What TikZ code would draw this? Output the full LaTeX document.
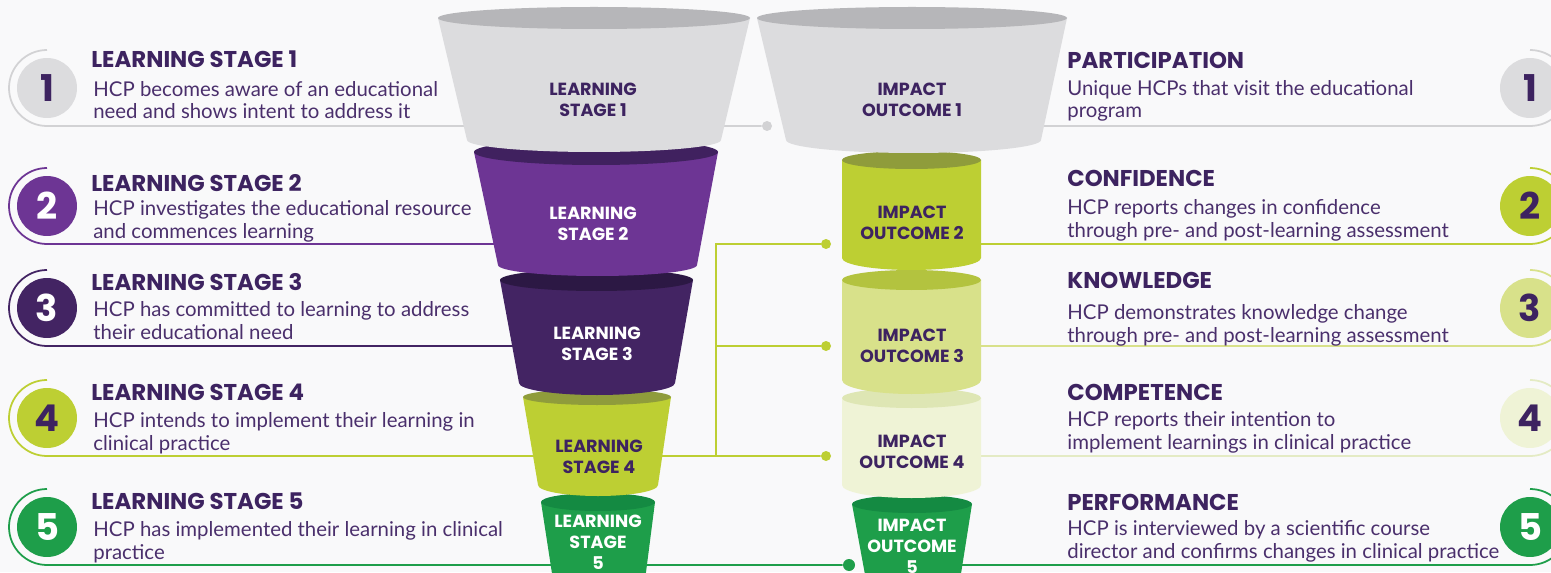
\documentclass[tikz,border=0pt]{standalone}
\usepackage{fontspec}
\setmainfont{Lato}
\newfontfamily\headfont{Poppins}
\usetikzlibrary{positioning}

\definecolor{ink}{HTML}{3D2360}
\definecolor{inksoft}{HTML}{4A2F6C}
\definecolor{paper}{HTML}{F9F9FA}
\definecolor{greyfun}{HTML}{DCDCDE}
\definecolor{greyrim}{HTML}{B6B6B9}
\definecolor{greyline}{HTML}{D2D2D4}
\definecolor{purplefun}{HTML}{6D3594}
\definecolor{purplerim}{HTML}{40215F}
\definecolor{deepfun}{HTML}{432463}
\definecolor{deeprim}{HTML}{2C1844}
\definecolor{limefun}{HTML}{BDCF33}
\definecolor{limerim}{HTML}{8F9C3B}
\definecolor{softfun}{HTML}{D8E18A}
\definecolor{softrim}{HTML}{B3C33F}
\definecolor{palefun}{HTML}{EFF3D6}
\definecolor{palerim}{HTML}{DEE6B4}
\definecolor{paleline}{HTML}{E4EBC4}
\definecolor{greenfun}{HTML}{1E9E4A}
\definecolor{greenrim}{HTML}{148A42}

\begin{document}
\begin{tikzpicture}[
    x=0.02cm, y=0.02cm,
    % Clean styles
    numdisc/.style={
        circle,
        minimum size=1.2cm,
        inner sep=0pt,
        font=\headfont\bfseries\fontsize{21}{21}\selectfont
    },
    heading/.style={
        anchor=base west,
        inner sep=0pt,
        text=ink,
        font=\headfont\bfseries\fontsize{13}{15}\selectfont
    },
    desc/.style={
        anchor=base west,
        inner sep=0pt,
        align=left,
        text=inksoft,
        font=\fontsize{11.6}{13}\selectfont
    },
    cuplabel/.style={
        align=center,
        inner sep=0pt,
        font=\headfont\bfseries\fontsize{10}{12}\selectfont
    },
    link/.style={
        line width=1pt
    },
    dot/.style={
        circle,
        minimum size=0.2cm,
        inner sep=0pt
    }
]

\clip (0,0) rectangle (1551,572);
\fill[paper] (0,0) rectangle (1551,572);

% === Number discs ===
\node[numdisc, fill=greyfun, text=ink] (numL1) at (47,484) {1};
\node[numdisc, fill=purplefun, text=white] (numL2) at (47,366) {2};
\node[numdisc, fill=deepfun, text=white] (numL3) at (47,264) {3};
\node[numdisc, fill=limefun, text=ink] (numL4) at (47,154) {4};
\node[numdisc, fill=greenfun, text=white] (numL5) at (47,45) {5};

\node[numdisc, fill=greyfun, text=ink] (numR1) at (1530,484) {1};
\node[numdisc, fill=limefun, text=ink] (numR2) at (1530,366) {2};
\node[numdisc, fill=softfun, text=ink] (numR3) at (1530,264) {3};
\node[numdisc, fill=palefun, text=ink] (numR4) at (1530,154) {4};
\node[numdisc, fill=greenfun, text=white] (numR5) at (1530,45) {5};

% === Dots and joints ===
\node[dot, fill=greyline] (dot1) at (767,446) {};
\node[dot, fill=limefun] (dot2) at (826,328) {};
\node[dot, fill=limefun] (dot3) at (826,226) {};
\node[dot, fill=limefun] (dot4) at (826,116) {};
\node[dot, fill=greenfun, minimum size=0.24cm] (dot5) at (849,7) {};

\coordinate (bend2) at (716,328);
\coordinate (bend3) at (716,226);
\coordinate (bend4) at (716,116);
\coordinate (fL2) at (594,328);
\coordinate (fL3) at (596,226);
\coordinate (fR1) at (912,446);
\coordinate (fR2) at (912,328);
\coordinate (fR3) at (912,226);
\coordinate (fR4) at (912,116);
\coordinate (fR5) at (912,7);

% === Underlines ===
\draw[link, greyline] (dot1) -- (numL1.center |- dot1) arc[start angle=270, end angle=90, radius=38];
\draw[link, purplefun] (fL2) -- (numL2.center |- fL2) arc[start angle=270, end angle=90, radius=38];
\draw[link, deepfun] (fL3) -- (numL3.center |- fL3) arc[start angle=270, end angle=90, radius=38];
\draw[link, limefun] (dot4) -- (numL4.center |- dot4) arc[start angle=270, end angle=90, radius=38];
\draw[link, greenfun] (dot5) -- (numL5.center |- dot5) arc[start angle=270, end angle=90, radius=38];

\draw[link, greyline] (fR1) -- (numR1.center |- fR1) arc[start angle=-90, end angle=90, radius=38];
\draw[link, limefun] (fR2) -- (numR2.center |- fR2) arc[start angle=-90, end angle=90, radius=38];
\draw[link, softfun] (fR3) -- (numR3.center |- fR3) arc[start angle=-90, end angle=90, radius=38];
\draw[link, paleline] (fR4) -- (numR4.center |- fR4) arc[start angle=-90, end angle=90, radius=38];
\draw[link, greenfun] (fR5) -- (numR5.center |- fR5) arc[start angle=-90, end angle=90, radius=38];

% === Middle connector ===
\draw[link, limefun] (dot2) -- (bend2) -- (bend4);
\draw[link, limefun] (bend3) -- (dot3);

% === Learning funnel (bottom up) ===
\fill[greenfun] (541,70) -- (553,-8) arc[start angle=180, end angle=360, x radius=46, y radius=8] -- (655,70) -- cycle;
\fill[greenrim] (598,70) ellipse[x radius=57, y radius=9];
\fill[limefun] (523,175) -- (538,87) arc[start angle=180, end angle=360, x radius=60, y radius=11] -- (671,175) -- cycle;
\fill[limerim] (597,175) ellipse[x radius=74, y radius=8];
\fill[deepfun] (500,292) -- (519,189) arc[start angle=180, end angle=360, x radius=78, y radius=12] -- (693,292) -- cycle;
\fill[deeprim] (596.5,292) ellipse[x radius=96.5, y radius=11];
\fill[purplefun] (474,420) -- (498,307) arc[start angle=180, end angle=360, x radius=99.5, y radius=11] -- (718,420) -- cycle;
\fill[purplerim] (596,420) ellipse[x radius=122, y radius=13];
\fill[greyfun] (438,554) -- (467,432) arc[start angle=180, end angle=360, x radius=127, y radius=12] -- (750,554) -- cycle;
\fill[greyrim] (594,554) ellipse[x radius=156, y radius=11];

% === Impact funnel (bottom up) ===
\fill[greenfun] (852,68) -- (866,-8) arc[start angle=180, end angle=360, x radius=47, y radius=8] -- (972,68) -- cycle;
\fill[greenrim] (912,68) ellipse[x radius=60, y radius=9];
\fill[palefun] (842,174) -- (842,87) arc[start angle=180, end angle=360, x radius=69.5, y radius=13] -- (981,174) -- cycle;
\fill[palerim] (911.5,174) ellipse[x radius=69.5, y radius=10];
\fill[softfun] (842,292) -- (842,192) arc[start angle=180, end angle=360, x radius=69.5, y radius=14] -- (981,292) -- cycle;
\fill[softrim] (911.5,292) ellipse[x radius=69.5, y radius=10];
\fill[limefun] (842,412) -- (842,314) arc[start angle=180, end angle=360, x radius=69.5, y radius=12] -- (981,412) -- cycle;
\fill[limerim] (911.5,412) ellipse[x radius=69.5, y radius=9];
\fill[greyfun] (757,554) -- (786,432) arc[start angle=180, end angle=360, x radius=127.5, y radius=13] -- (1067,554) -- cycle;
\fill[greyrim] (912,554) ellipse[x radius=155, y radius=11];

% === Funnel labels ===
\node[cuplabel, text=ink] (cupL1) at (593,472) {LEARNING\\STAGE 1};
\node[cuplabel, text=white] (cupL2) at (593,348) {LEARNING\\STAGE 2};
\node[cuplabel, text=white] (cupL3) at (597,228) {LEARNING\\STAGE 3};
\node[cuplabel, text=ink] (cupL4) at (599,115) {LEARNING\\STAGE 4};
\node[cuplabel, text=white] (cupL5) at (598,30) {LEARNING\\STAGE\\5};

\node[cuplabel, text=ink] (cupR1) at (912,472) {IMPACT\\OUTCOME 1};
\node[cuplabel, text=ink] (cupR2) at (912,349) {IMPACT\\OUTCOME 2};
\node[cuplabel, text=ink] (cupR3) at (912,226) {IMPACT\\OUTCOME 3};
\node[cuplabel, text=ink] (cupR4) at (912,120) {IMPACT\\OUTCOME 4};
\node[cuplabel, text=white] (cupR5) at (912,26) {IMPACT\\OUTCOME\\5};

% === Left texts ===
\node[heading] (headL1) at (91,504) {LEARNING STAGE 1};
\node[desc] (descL1) at (93,453) {HCP becomes aware of an educational\\need and shows intent to address it};
\node[heading] (headL2) at (91,380) {LEARNING STAGE 2};
\node[desc] (descL2) at (93,334) {HCP investigates the educational resource\\and commences learning};
\node[heading] (headL3) at (91,282) {LEARNING STAGE 3};
\node[desc] (descL3) at (93,233) {HCP has committed to learning to address\\their educational need};
\node[heading] (headL4) at (91,172) {LEARNING STAGE 4};
\node[desc] (descL4) at (93,122) {HCP intends to implement their learning in\\clinical practice};
\node[heading] (headL5) at (91,63) {LEARNING STAGE 5};
\node[desc] (descL5) at (93,13) {HCP has implemented their learning in clinical\\practice};

% === Right texts ===
\node[heading] (headR1) at (1067,503) {PARTICIPATION};
\node[desc] (descR1) at (1067,454) {Unique HCPs that visit the educational\\program};
\node[heading] (headR2) at (1067,385) {CONFIDENCE};
\node[desc] (descR2) at (1067,335) {HCP reports changes in confidence\\through pre- and post-learning assessment};
\node[heading] (headR3) at (1067,284) {KNOWLEDGE};
\node[desc] (descR3) at (1067,230) {HCP demonstrates knowledge change\\through pre- and post-learning assessment};
\node[heading] (headR4) at (1067,172) {COMPETENCE};
\node[desc] (descR4) at (1067,123) {HCP reports their intention to\\implement learnings in clinical practice};
\node[heading] (headR5) at (1067,62) {PERFORMANCE};
\node[desc] (descR5) at (1067,14) {HCP is interviewed by a scientific course\\director and confirms changes in clinical practice};

\end{tikzpicture}
\end{document}
